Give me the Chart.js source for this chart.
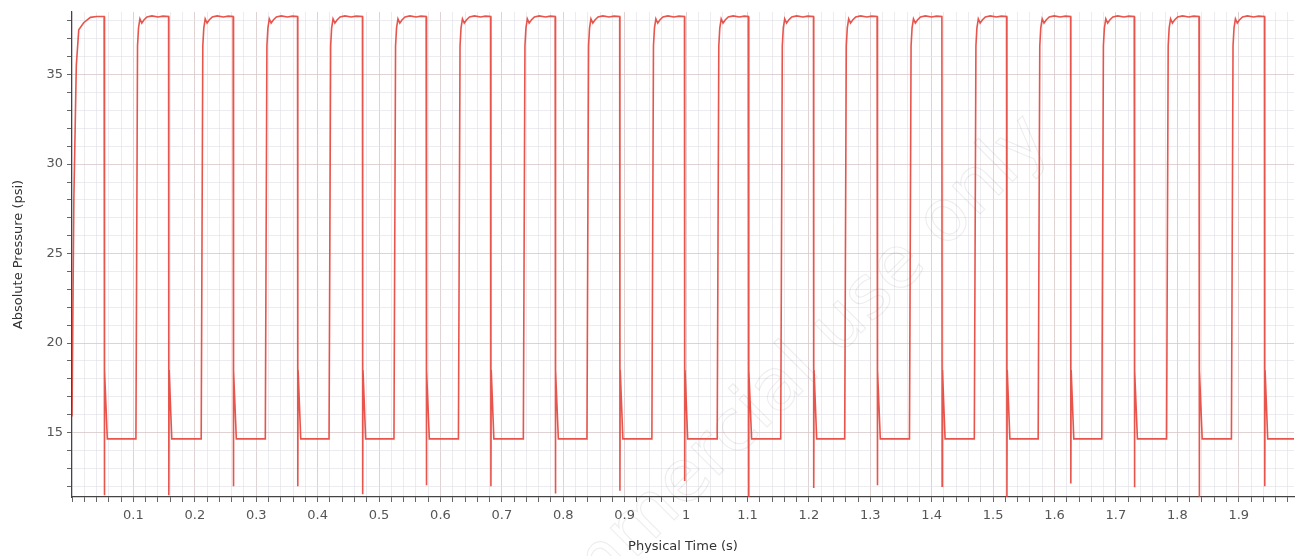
<!DOCTYPE html>
<html>
<head>
<meta charset="utf-8">
<script src="https://cdn.jsdelivr.net/npm/chart.js@4.4.1/dist/chart.umd.min.js"></script>
<style>
  html, body { margin: 0; padding: 0; background: #fff; }
  #wrap { width: 1295px; height: 556px; }
</style>
</head>
<body>
<div id="wrap"><canvas id="pressureChart" width="1295" height="556"></canvas></div>
<script>
// Values
// time (s) where the pressure drops from the high plateau
const fallTimes = [0.0523, 0.1573, 0.2624, 0.3673, 0.4730, 0.5767, 0.6818, 0.7868, 0.8919, 0.9974,
                   1.1015, 1.2075, 1.3111, 1.4166, 1.5221, 1.6262, 1.7298, 1.8353, 1.9420];
// time (s) where the pressure rises again from the low level
const riseTimes = [0.1041, 0.2104, 0.3148, 0.4186, 0.5243, 0.6293, 0.7350, 0.8386, 0.9443,
                   1.0507, 1.1541, 1.2583, 1.3638, 1.4694, 1.5734, 1.6770, 1.7825, 1.8881];
// bottom of the negative spike at each drop (psi)
const spikeLows = [11.5, 11.5, 12.0, 12.0, 11.55, 12.05, 12.0, 11.6, 11.75, 12.3,
                   11.3, 11.9, 12.05, 12.0, 11.3, 12.15, 11.95, 11.35, 12.0];

// start of the trace (first rise from t = 0)
const startTimes = [0, 0.003, 0.007, 0.011, 0.019, 0.030, 0.040];
const startValues = [15.9, 28.0, 35.5, 37.5, 37.9, 38.2, 38.25];

// shape of a rise, times relative to the rise edge
const riseOffsets = [0, 0.0026, 0.0042, 0.0065, 0.0095, 0.013, 0.018, 0.026, 0.036, 0.044];
const riseValues = [14.65, 36.6, 37.6, 38.12, 37.88, 38.05, 38.22, 38.28, 38.22, 38.27];

// shape of a drop, times relative to the drop edge (second value is the spike low)
const fallOffsets = [0, 0.0004, 0.0009, 0.0052];
const fallValues = [38.25, null, 18.5, 14.65];

const lowLevel = 14.65;
const endTime = 1.995;

// axis ticks
const xMajorTicks = [0.1, 0.2, 0.3, 0.4, 0.5, 0.6, 0.7, 0.8, 0.9, 1, 1.1, 1.2, 1.3, 1.4, 1.5, 1.6, 1.7, 1.8, 1.9];
const xTickLabels = ['0.1', '0.2', '0.3', '0.4', '0.5', '0.6', '0.7', '0.8', '0.9', '1',
                     '1.1', '1.2', '1.3', '1.4', '1.5', '1.6', '1.7', '1.8', '1.9'];
const yMajorTicks = [15, 20, 25, 30, 35];
const yTickLabels = ['15', '20', '25', '30', '35'];

// build the trace
const points = [];
startTimes.forEach((t, i) => points.push({ x: t, y: startValues[i] }));
fallTimes.forEach((tf, k) => {
    fallOffsets.forEach((o, i) => {
        points.push({ x: tf + o, y: fallValues[i] === null ? spikeLows[k] : fallValues[i] });
    });
    if (k < riseTimes.length) {
        riseOffsets.forEach((o, i) => points.push({ x: riseTimes[k] + o, y: riseValues[i] }));
    }
});
points.push({ x: endTime, y: lowLevel });

function isMajor(list, v) {
    return list.findIndex(m => Math.abs(m - v) < 1e-6);
}

const gridMajor = 'rgba(214, 196, 196, 0.75)';
const gridMinor = 'rgba(222, 222, 230, 0.6)';

// faint watermark behind the trace
const watermark = {
    id: 'watermark',
    beforeDatasetsDraw(chart) {
        const ctx = chart.ctx;
        ctx.save();
        ctx.translate(1052, 142);
        ctx.rotate(-Math.PI / 4);
        ctx.font = '72px "DejaVu Sans"';
        ctx.textAlign = 'right';
        ctx.strokeStyle = 'rgba(0, 0, 0, 0.07)';
        ctx.lineWidth = 1.2;
        ctx.strokeText('Non-commercial use only', 0, 0);
        ctx.restore();
    }
};

const ctx = document.getElementById('pressureChart').getContext('2d');
new Chart(ctx, {
    type: 'line',
    data: {
        datasets: [{
            label: 'Absolute Pressure',
            data: points,
            borderColor: 'rgba(230, 66, 58, 0.9)',
            borderWidth: 1.6,
            pointRadius: 0,
            tension: 0,
            fill: false
        }]
    },
    options: {
        responsive: false,
        animation: false,
        events: [],
        layout: { padding: { top: 12, right: 1, left: 0, bottom: 0 } },
        plugins: {
            legend: { display: false },
            tooltip: { enabled: false }
        },
        scales: {
            x: {
                type: 'linear',
                min: 0,
                max: 1.99,
                afterFit: scale => { scale.height = 59; },
                afterBuildTicks: scale => {
                    const t = [];
                    for (let i = 0; i <= 99; i++) t.push({ value: +(i * 0.02).toFixed(2) });
                    scale.ticks = t;
                },
                ticks: {
                    autoSkip: false,
                    maxRotation: 0,
                    minRotation: 0,
                    padding: 6,
                    color: '#555',
                    font: { family: 'DejaVu Sans', size: 13 },
                    callback: value => {
                        const i = isMajor(xMajorTicks, value);
                        return i >= 0 ? xTickLabels[i] : '';
                    }
                },
                grid: {
                    color: c => (c.tick && isMajor(xMajorTicks, c.tick.value) >= 0) ? gridMajor : gridMinor,
                    tickColor: '#666',
                    tickLength: 5,
                    lineWidth: 1
                },
                border: { color: '#444', width: 1.2 },
                title: {
                    display: true,
                    text: 'Physical Time (s)',
                    color: '#333',
                    font: { family: 'DejaVu Sans', size: 13 },
                    padding: { top: 0, bottom: 2 }
                }
            },
            y: {
                min: 11.4,
                max: 38.5,
                afterFit: scale => { scale.width = 72; },
                afterBuildTicks: scale => {
                    const t = [];
                    for (let v = 12; v <= 38; v++) t.push({ value: v });
                    scale.ticks = t;
                },
                ticks: {
                    autoSkip: false,
                    padding: 4,
                    color: '#555',
                    font: { family: 'DejaVu Sans', size: 13 },
                    callback: value => {
                        const i = isMajor(yMajorTicks, value);
                        return i >= 0 ? yTickLabels[i] : '';
                    }
                },
                grid: {
                    color: c => (c.tick && isMajor(yMajorTicks, c.tick.value) >= 0) ? gridMajor : gridMinor,
                    tickColor: '#666',
                    tickLength: 5,
                    lineWidth: 1
                },
                border: { color: '#444', width: 1.2 },
                title: {
                    display: true,
                    text: 'Absolute Pressure (psi)',
                    color: '#333',
                    font: { family: 'DejaVu Sans', size: 13 },
                    padding: { top: 11, bottom: 0 }
                }
            }
        }
    },
    plugins: [watermark]
});
</script>
</body>
</html>
